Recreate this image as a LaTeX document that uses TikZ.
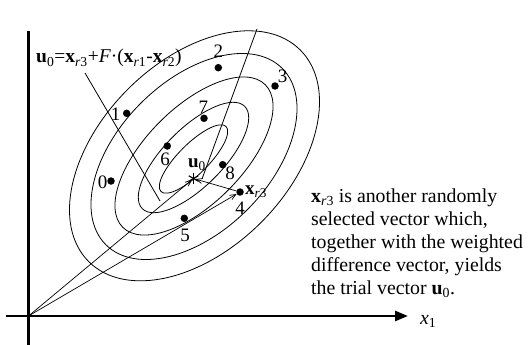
\documentclass[tikz,border=0pt]{standalone}
\usepackage{fontspec}
\setmainfont{Liberation Serif}
\usetikzlibrary{arrows.meta}
\begin{document}
\begin{tikzpicture}[x=1pt,y=-1pt,
  curve/.style={line width=0.8pt},
  dot/.style={circle,fill=black,inner sep=0pt,minimum size=7.5pt},
  num/.style={font=\fontsize{19}{19}\selectfont,inner sep=0pt},
  txt/.style={font=\fontsize{19.8}{23}\selectfont,inner sep=0pt,anchor=base west},
  vec/.style={line width=0.7pt,-{Straight Barb[length=6pt,width=5pt]}},
  axis/.style={line width=2.5pt}]
\useasboundingbox (0,0) rectangle (530,345);
% axes
\coordinate (O) at (28.5,316);
\coordinate (ytop) at (28.5,31);
\coordinate (ybot) at (28.5,345);
\coordinate (xleft) at (6,316);
\coordinate (xtip) at (408,316);
\draw[axis] (ybot) -- (ytop);
\draw[axis,-{Triangle[length=13pt,width=10pt]}] (xleft) -- (xtip);
\node[txt] (x1) at (420,324) {\textit{x}\textsubscript{1}};
% ellipses
\foreach \cx/\cy/\a/\b in {194.5/155.8/149.6/94.2, 194/156.5/124.7/75.3, 194/156/100.8/48.3, 193.5/157.5/72.4/29.2, 193.5/159/46/15}
  \draw[curve, rotate around={45:(\cx,\cy)}] (\cx,\cy) ellipse [x radius=\a, y radius=\b];
% points
\node[dot] (p0) at (111,181) {};
\node[dot] (p1) at (126.7,113.3) {};
\node[dot] (p2) at (218.3,67.7) {};
\node[dot] (p3) at (275,86) {};
\node[dot] (p5) at (184.3,218.3) {};
\node[dot] (p6) at (167.3,146) {};
\node[dot] (p7) at (204,118.3) {};
\node[dot] (p8) at (222.7,164.7) {};
\node[dot] (xr3) at (240,192) {};
\node[num] (l0) at (102.7,182) {0};
\node[num] (l1) at (115.7,114) {1};
\node[num] (l2) at (218.3,51.7) {2};
\node[num] (l3) at (282.7,76) {3};
\node[num] (l4) at (240,208.3) {4};
\node[num] (l5) at (185,235) {5};
\node[num] (l6) at (165,159.3) {6};
\node[num] (l7) at (203.3,107.3) {7};
\node[num] (l8) at (230,173.3) {8};
% u0
\coordinate (u0) at (193.5,178.5);
\draw[line width=1.1pt] (u0) ++(0,-5.5) -- ++(0,11);
\draw[line width=1.1pt] (u0) ++(-4.8,-2.75) -- ++(9.6,5.5);
\draw[line width=1.1pt] (u0) ++(-4.8,2.75) -- ++(9.6,-5.5);
\node[num] (u0lab) at (197,165) {\textbf{u}\textsubscript{0}};
\node[num,anchor=west] (xr3lab) at (245,192) {\textbf{x}\textsubscript{\textit{r}3}};
% vectors
\draw[vec,shorten >=2pt] (O) -- (u0);
\draw[vec] (O) -- (xr3);
\draw[vec,shorten >=2pt] (xr3) -- (u0);
% other lines
\coordinate (Ltop) at (257,29);
\coordinate (Lend) at (202,179);
\draw[curve] (Ltop) -- (Lend);
\coordinate (P1) at (85,73);
\coordinate (P2) at (160,201);
\draw[curve] (P1) -- (P2);
% formula
\node[anchor=base west,inner sep=0pt,font=\fontsize{19.5}{19.5}\selectfont] (formula) at (36,63)
  {\textbf{u}\textsubscript{0}=\textbf{x}\textsubscript{\textit{r}3}+\textit{F}·(\textbf{x}\textsubscript{\textit{r}1}-\textbf{x}\textsubscript{\textit{r}2})};
% text
\node[txt] (t1) at (311,202) {\textbf{x}\textsubscript{\textit{r}3} is another randomly};
\node[txt] (t2) at (311,225) {selected vector which,};
\node[txt] (t3) at (311,248) {together with the weighted};
\node[txt] (t4) at (311,271) {difference vector, yields};
\node[txt] (t5) at (311,294) {the trial vector \textbf{u}\textsubscript{0}.};
\end{tikzpicture}
\end{document}
